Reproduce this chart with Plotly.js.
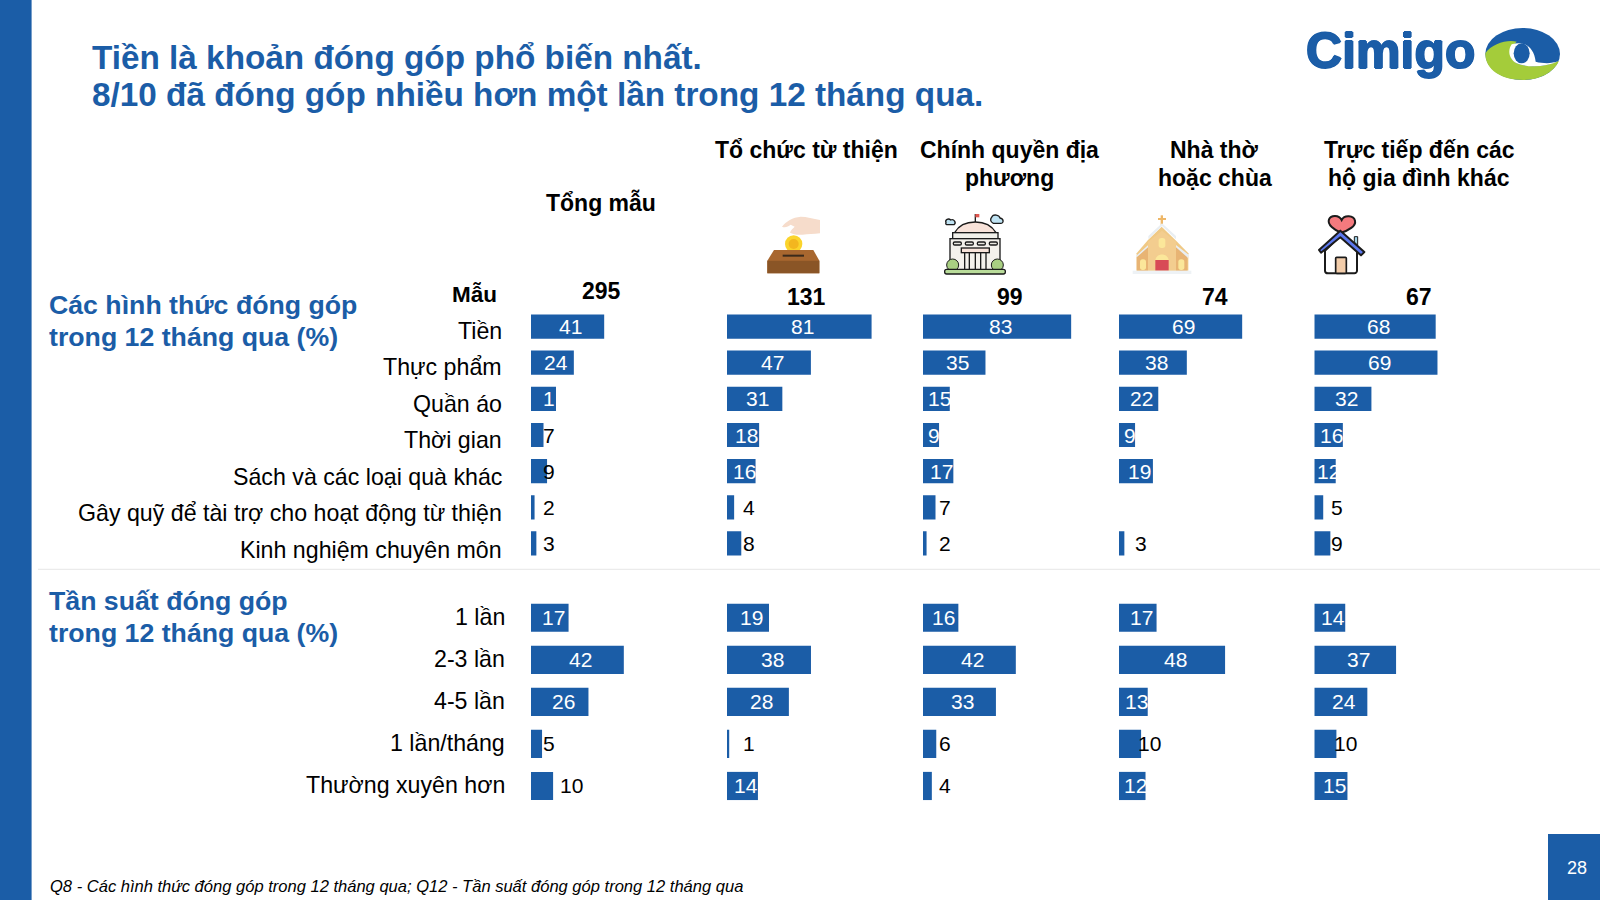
<!DOCTYPE html>
<html><head><meta charset="utf-8">
<script src="https://cdn.plot.ly/plotly-3.0.1.min.js"></script>
<style>html,body{margin:0;padding:0;background:#fff}#c{width:1600px;height:900px}</style>
</head><body><div id="c"></div>
<script>
// ---------- data ----------
const columns = ["Tổng mẫu","Tổ chức từ thiện","Chính quyền địa<br>phương","Nhà thờ<br>hoặc chùa","Trực tiếp đến các<br>hộ gia đình khác"];
const sampleSizes = [295,131,99,74,67];
const formCategories = ["Tiền","Thực phẩm","Quần áo","Thời gian","Sách và các loại quà khác","Gây quỹ để tài trợ cho hoạt động từ thiện","Kinh nghiệm chuyên môn"];
const formTotal    = [41,24,14,7,9,2,3];
const formCharity  = [81,47,31,18,16,4,8];
const formGov      = [83,35,15,9,17,7,2];
const formChurch   = [69,38,22,9,19,null,3];
const formDirect   = [68,69,32,16,12,5,9];
const formTotalLabels = ["41","24","1","7","9","2","3"];
const freqCategories = ["1 lần","2-3 lần","4-5 lần","1 lần/tháng","Thường xuyên hơn"];
const freqTotal    = [17,42,26,5,10];
const freqCharity  = [19,38,28,1,14];
const freqGov      = [16,42,33,6,4];
const freqChurch   = [17,48,13,10,12];
const freqDirect   = [14,37,24,10,15];
const titleLines = ["Tiền là khoản đóng góp phổ biến nhất.","8/10 đã đóng góp nhiều hơn một lần trong 12 tháng qua."];
const section1 = ["Các hình thức đóng góp","trong 12 tháng qua (%)"];
const section2 = ["Tần suất đóng góp","trong 12 tháng qua (%)"];
const footnote = "Q8 - Các hình thức đóng góp trong 12 tháng qua; Q12 - Tần suất đóng góp trong 12 tháng qua";

// ---------- layout geometry ----------
const W=1600,H=900, BLUE='#1b5da7', FONT='"Liberation Sans", Arial, sans-serif';
const px=x=>x/W, py=y=>1-y/H;
const colLeft=[531,727,923,1119,1314.3];
const headCx=[601,806,1009.7,1214.8,1419.4];
const panels=[
 {cats:formCategories, series:[formTotal,formCharity,formGov,formChurch,formDirect], labels:[formTotalLabels,null,null,null,null],
  top:308.5,bottom:561.5,range:100,wpx:178.5,yaxis:'y',catRight:503.5,catShift:-4,catStep:-0.42,blackMax:8,blackExtra:{'4,0':1,'6,4':1}},
 {cats:freqCategories, series:[freqTotal,freqCharity,freqGov,freqChurch,freqDirect], labels:[null,null,null,null,null],
  top:596.7,bottom:807,range:80,wpx:176.8,yaxis:'y2',catRight:507,catShift:1,catStep:0,blackMax:10,blackExtra:{}}
];
const traces=[],ann=[],layout={
 width:W,height:H,margin:{l:0,r:0,t:0,b:0},paper_bgcolor:'#fff',plot_bgcolor:'rgba(0,0,0,0)',
 showlegend:false,bargap:0.33,font:{family:FONT},hovermode:false,shapes:[],images:[]};

function text(x,y,t,size,color,o){ann.push(Object.assign({xref:'paper',yref:'paper',x:px(x),y:py(y),text:t,showarrow:false,
  xanchor:'center',yanchor:'middle',align:'center',font:{family:FONT,size:size,color:color}},o||{}));}

panels.forEach((p,pi)=>{
 const ya=pi===0?'yaxis':'yaxis2';
 layout[ya]={domain:[py(p.bottom),py(p.top)],type:'category',categoryorder:'array',categoryarray:p.cats,
   range:[p.cats.length-0.5,-0.5],autorange:false,visible:false,fixedrange:true,anchor:'free',position:0};
 p.cats.forEach((c,i)=>ann.push({xref:'paper',yref:p.yaxis,x:px(p.catRight),y:c,yshift:p.catShift+p.catStep*i,text:c,showarrow:false,xanchor:'right',yanchor:'middle',
   font:{family:FONT,size:23.2,color:'#000'}}));
 p.series.forEach((vals,ci)=>{
  const n=pi*5+ci+1, xn=n===1?'x':'x'+n, xa=n===1?'xaxis':'xaxis'+n;
  layout[xa]={domain:[px(colLeft[ci]),px(colLeft[ci]+p.wpx)],range:[0,p.range],autorange:false,visible:false,fixedrange:true,anchor:p.yaxis};
  traces.push({type:'bar',orientation:'h',x:vals,y:p.cats,xaxis:xn,yaxis:p.yaxis,marker:{color:BLUE,line:{width:0}},hoverinfo:'skip',textposition:'none',cliponaxis:false});
  vals.forEach((v,ri)=>{
   if(v===null) return;
   const label=p.labels[ci]?p.labels[ci][ri]:String(v);
   const black=v<=p.blackMax||p.blackExtra[ri+','+ci];
   let x,shift;
   if(black){ x=0; shift=(v>=10)?(ci===0?40:(ci===3?30:31)):(ci===0?17.5:22.4); }
   else { x=v/2; shift=label.length<String(v).length?5.5:3.3; }
   ann.push({xref:xn,yref:p.yaxis,x:x,y:p.cats[ri],xshift:shift,text:label,showarrow:false,xanchor:'center',yanchor:'middle',
     font:{family:FONT,size:21,color:black?'#000':'#fff'}});
  });
 });
});

// decoration
layout.shapes.push(
 {type:'rect',xref:'paper',yref:'paper',x0:0,x1:px(31.6),y0:0,y1:1,fillcolor:BLUE,line:{width:0},layer:'below'},
 {type:'rect',xref:'paper',yref:'paper',x0:px(1548),x1:1,y0:0,y1:py(834),fillcolor:BLUE,line:{width:0},layer:'below'},
 {type:'line',xref:'paper',yref:'paper',x0:px(38),x1:1,y0:py(569.3),y1:py(569.3),line:{color:'#e6e6e6',width:1}}
);

// text
const left={xanchor:'left',align:'left'};
text(90,58,'<b>'+titleLines[0]+'</b>',33.3,BLUE,left);
text(90,94,'<b>'+titleLines[1]+'</b>',33.3,BLUE,left);
text(46.5,305,'<b>'+section1[0]+'</b>',26.7,BLUE,left);
text(46.5,337,'<b>'+section1[1]+'</b>',26.7,BLUE,left);
text(46.5,600.7,'<b>'+section2[0]+'</b>',26.7,BLUE,left);
text(46.5,632.7,'<b>'+section2[1]+'</b>',26.7,BLUE,left);
text(47.5,886.7,'<i>'+footnote+'</i>',16.55,'#000',left);
text(1576.5,867.7,'28',18,'#fff');
text(499,294,'<b>Mẫu</b>',22.5,'#000',{xanchor:'right',align:'right'});
// column heads
text(headCx[0],202.7,'<b>'+columns[0]+'</b>',23,'#000');
columns.slice(1).forEach((c,i)=>{
 c.split('<br>').forEach((line,j)=>text(headCx[i+1],150+j*28,'<b>'+line+'</b>',23,'#000'));
});
sampleSizes.forEach((s,i)=>text(headCx[i],i===0?291:297,'<b>'+s+'</b>',23,'#000'));
// logo text
text(1304,51,'<b>Cimigo</b>',50,BLUE,{xanchor:'left',align:'left',font:{family:FONT,size:50,color:BLUE,
  shadow:'0.9px 0 0 '+BLUE+', -0.9px 0 0 '+BLUE+', 0 0.9px 0 '+BLUE+', 0 -0.9px 0 '+BLUE}});

// images
function svg(vw,vh,body){return 'data:image/svg+xml;charset=utf-8,'+encodeURIComponent('<svg xmlns="http://www.w3.org/2000/svg" width="'+vw+'" height="'+vh+'" viewBox="0 0 '+vw+' '+vh+'">'+body+'</svg>');}
function img(x,y,w,h,src){layout.images.push({source:src,xref:'paper',yref:'paper',x:px(x),y:py(y),sizex:w/W,sizey:h/H,xanchor:'left',yanchor:'top',sizing:'stretch',layer:'above'});}
const K='#1b1b1b';
img(1295,15,280,75,svg(840,225,
 '<ellipse cx="683" cy="117" rx="112" ry="78" fill="#1b5da7"/>'+
 '<path d="M571 115C590 85 640 72 665 80C640 100 640 130 665 145C700 160 750 155 792 138C775 175 730 195 685 195C620 195 570 165 571 115Z" fill="#a4cc3a"/>'+
 '<path d="M650 88C690 75 718 100 722 140C745 146 770 146 790 139C750 158 695 158 665 145C640 130 638 105 650 88Z" fill="#fff"/>'+
 '<ellipse cx="680" cy="115" rx="24" ry="30" fill="#1b5da7"/>'));
img(760,210,70,70,svg(210,210,
 '<path d="M66 50C78 34 98 22 122 20C140 20 160 26 180 30V70C160 72 145 72 128 74C112 76 98 72 90 68C92 60 98 56 104 50L92 44C84 50 76 54 66 50Z" fill="#f6dccb"/>'+
 '<circle cx="101" cy="102" r="26" fill="#fbd42c"/><circle cx="101" cy="102" r="15" fill="#f3b61f"/>'+
 '<path d="M42 120H160L178 152V190H22V152Z" fill="#a8672f"/><path d="M22 152H178V190H22Z" fill="#8a5526"/>'+
 '<rect x="68" y="134" width="64" height="6" fill="#3b2a1b"/>'));
img(940,210,70,70,svg(210,210,
 '<path d="M18 38C14 28 26 24 32 30C42 26 50 38 42 44H24C18 44 16 42 18 38Z" fill="#bfe3f3" stroke="'+K+'" stroke-width="4"/>'+
 '<path d="M156 20C160 12 178 14 180 24C192 26 192 40 182 40H160C150 36 150 26 156 20Z" fill="#bfe3f3" stroke="'+K+'" stroke-width="4"/>'+
 '<path d="M106 36V12" stroke="'+K+'" stroke-width="4"/><path d="M106 12H118V22H106Z" fill="#e0574f"/>'+
 '<path d="M44 68C56 46 80 36 106 36C134 36 156 48 168 68Z" fill="#f8e3da" stroke="'+K+'" stroke-width="4"/>'+
 '<rect x="38" y="68" width="136" height="18" fill="#f1f0ea" stroke="'+K+'" stroke-width="4"/>'+
 '<rect x="30" y="86" width="150" height="94" fill="#f4f1ec" stroke="'+K+'" stroke-width="4"/>'+
 '<g fill="#e9e7e0" stroke="'+K+'" stroke-width="4"><rect x="40" y="96" width="24" height="9" rx="4"/><rect x="76" y="96" width="24" height="9" rx="4"/><rect x="112" y="96" width="24" height="9" rx="4"/><rect x="148" y="96" width="24" height="9" rx="4"/></g>'+
 '<rect x="64" y="114" width="84" height="14" fill="#f8e3da" stroke="'+K+'" stroke-width="4"/>'+
 '<path d="M74 128V178M88 128V178M106 128V178M122 128V178M138 128V178" stroke="'+K+'" stroke-width="4"/>'+
 '<circle cx="38" cy="165" r="18" fill="#a9cf82" stroke="'+K+'" stroke-width="3"/><circle cx="172" cy="165" r="18" fill="#a9cf82" stroke="'+K+'" stroke-width="3"/>'+
 '<rect x="14" y="178" width="182" height="14" rx="6" fill="#b9dc9a" stroke="'+K+'" stroke-width="4"/>'));
img(1130,210,70,70,svg(210,210,
 '<rect x="92" y="16" width="7" height="32" fill="#eeb768"/><rect x="84" y="24" width="24" height="6" fill="#eeb768"/>'+
 '<path d="M54 90L95 50L136 90L175 130V182H20V130Z" fill="#f0c985"/>'+
 '<path d="M18 138L58 102V112L24 145ZM172 145L134 112V102L178 136Z" fill="#e9eef2"/>'+
 '<path d="M55 88L96 48L138 88V78L96 40L55 78Z" fill="#e9eef2"/>'+
 '<path d="M54 95V182H138V95L96 62Z" fill="#f3cd8f"/><path d="M20 142L54 112V182H20ZM172 142L138 112V182H172Z" fill="#e8b474"/>'+
 '<rect x="86" y="84" width="20" height="30" rx="8" fill="#fbe79a"/>'+
 '<rect x="30" y="148" width="18" height="32" rx="8" fill="#fbe79a"/><rect x="145" y="148" width="18" height="32" rx="8" fill="#fbe79a"/>'+
 '<path d="M76 150C80 128 112 128 116 150Z" fill="#fbe79a"/><rect x="76" y="150" width="40" height="32" fill="#d84a56"/>'+
 '<rect x="8" y="182" width="176" height="10" fill="#eef2f5"/>'));
img(1305,210,70,70,svg(210,210,
 '<path d="M108 68C88 60 66 44 72 28C78 14 102 14 110 30C118 14 146 16 150 32C154 48 130 62 108 68Z" fill="#f47a7e" stroke="'+K+'" stroke-width="6"/>'+
 '<path d="M148 96V80H158V106Z" fill="#9fd3ea" stroke="'+K+'" stroke-width="3"/>'+
 '<path d="M60 122L106 78L156 124V182C156 186 152 190 148 190H70C64 190 60 186 60 182Z" fill="#fff" stroke="'+K+'" stroke-width="6"/>'+
 '<path d="M48 128L42 120L106 62L178 126L168 136L106 82Z" fill="#5c78ee" stroke="'+K+'" stroke-width="6" stroke-linejoin="round"/>'+
 '<rect x="92" y="142" width="32" height="48" rx="3" fill="#f3cdaa" stroke="'+K+'" stroke-width="5"/>'));

Plotly.newPlot('c',traces,Object.assign(layout,{annotations:ann}),{staticPlot:true,displayModeBar:false});
</script></body></html>
